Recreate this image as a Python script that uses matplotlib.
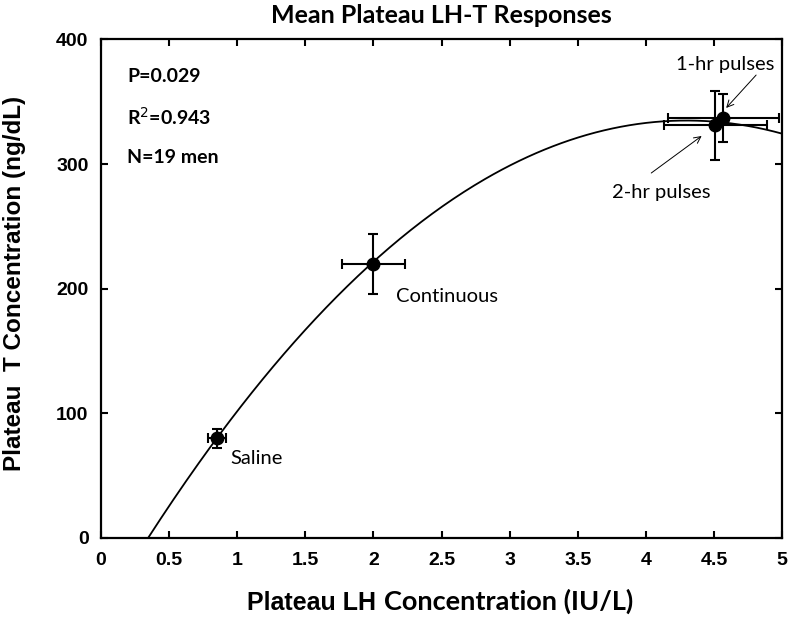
import numpy as np
import matplotlib
matplotlib.use("Agg")
import matplotlib.pyplot as plt

# ---- data ----
groups = ["Saline", "Continuous", "2-hr pulses", "1-hr pulses"]
lh_mean = [0.85, 2.00, 4.51, 4.57]
lh_err = [0.065, 0.23, 0.38, 0.405]
t_mean = [80, 220, 331, 337]
t_err = [7.5, 24, 28, 19]

# quadratic fit coefficients (T = c2*LH^2 + c1*LH + c0)
fit_coef = [-21.42, 184.2, -61.1]
fit_range = [0.345, 5.0]

stats_lines = ["P=0.029", "R$^2$=0.943", "N=19 men"]

x_ticks = [0, 0.5, 1, 1.5, 2, 2.5, 3, 3.5, 4, 4.5, 5]
x_ticklabels = ["0", "0.5", "1", "1.5", "2", "2.5", "3", "3.5", "4", "4.5", "5"]
y_ticks = [0, 100, 200, 300, 400]

# ---- figure ----
W, H = 793, 617
fig = plt.figure(figsize=(W / 100, H / 100), dpi=100)
ax = fig.add_axes([101 / W, 1 - 538 / H, (782 - 101) / W, (538 - 39.4) / H])

xs = np.linspace(fit_range[0], fit_range[1], 300)
ax.plot(xs, np.polyval(fit_coef, xs), color="black", lw=1.3, zorder=2)

ax.errorbar(lh_mean, t_mean, xerr=lh_err, yerr=t_err, fmt="o", color="black",
            ms=9, elinewidth=1.5, capsize=3.6, capthick=1.5, zorder=3)

ax.set_xlim(0, 5)
ax.set_ylim(0, 400)
ax.set_xticks(x_ticks)
ax.set_xticklabels(x_ticklabels)
ax.set_yticks(y_ticks)

for sp in ax.spines.values():
    sp.set_linewidth(1.6)

ax.tick_params(direction="in", length=5, width=1.5, top=True, right=True,
               labelsize=14)
ax.tick_params(axis="x", pad=10)
ax.tick_params(axis="y", pad=9)
for lab in ax.get_xticklabels() + ax.get_yticklabels():
    lab.set_fontfamily("Liberation Sans")
    lab.set_fontweight("bold")

ax.set_title("Mean Plateau LH-T Responses", fontfamily="Lato", fontweight="bold",
             fontsize=18, pad=12)

# y label
fig.text(15 / W, 1 - 283 / H, "Plateau  T Concentration (ng/dL)",
         fontfamily="Liberation Sans", fontweight="bold", fontsize=17.5,
         rotation=90, ha="center", va="center")

# x label (mixed fonts, as in the original)
base_y = 1 - 610 / H
t1 = fig.text(247 / W, base_y, "Plateau LH", fontfamily="Liberation Sans",
              fontweight="bold", fontsize=18, ha="left", va="baseline")
t2 = fig.text(0, base_y, "Concentration (IU/L)", fontfamily="Lato",
              fontweight="bold", fontsize=19.5, ha="left", va="baseline")
fig.canvas.draw()
r = fig.canvas.get_renderer()
w1 = t1.get_window_extent(r).width
t2.set_x((247 + w1 + 8) / W)

# stats text
for txt, yv in zip(stats_lines, [370.6, 337.7, 305.6]):
    ax.text(0.19, yv, txt, fontfamily="Lato", fontweight="bold", fontsize=14,
            va="center", ha="left")

# group labels
ax.text(2.165, 194, groups[1], fontfamily="Lato", fontsize=14.5, va="center", ha="left")
ax.text(0.95, 64, groups[0], fontfamily="Lato", fontsize=14.5, va="center", ha="left")
ax.text(4.22, 380, groups[3], fontfamily="Lato", fontsize=14.5, va="center", ha="left")
ax.annotate("", xy=(4.59, 345), xytext=(4.81, 371.4),
            arrowprops=dict(arrowstyle="->", lw=0.7, color="black",
                            shrinkA=0, shrinkB=0, mutation_scale=12))
ax.text(3.755, 276.8, groups[2], fontfamily="Lato", fontsize=14.5, va="center", ha="left")
ax.annotate("", xy=(4.41, 322.5), xytext=(4.04, 292.8),
            arrowprops=dict(arrowstyle="->", lw=0.7, color="black",
                            shrinkA=0, shrinkB=0, mutation_scale=12))

fig.savefig("out.png", dpi=100)
